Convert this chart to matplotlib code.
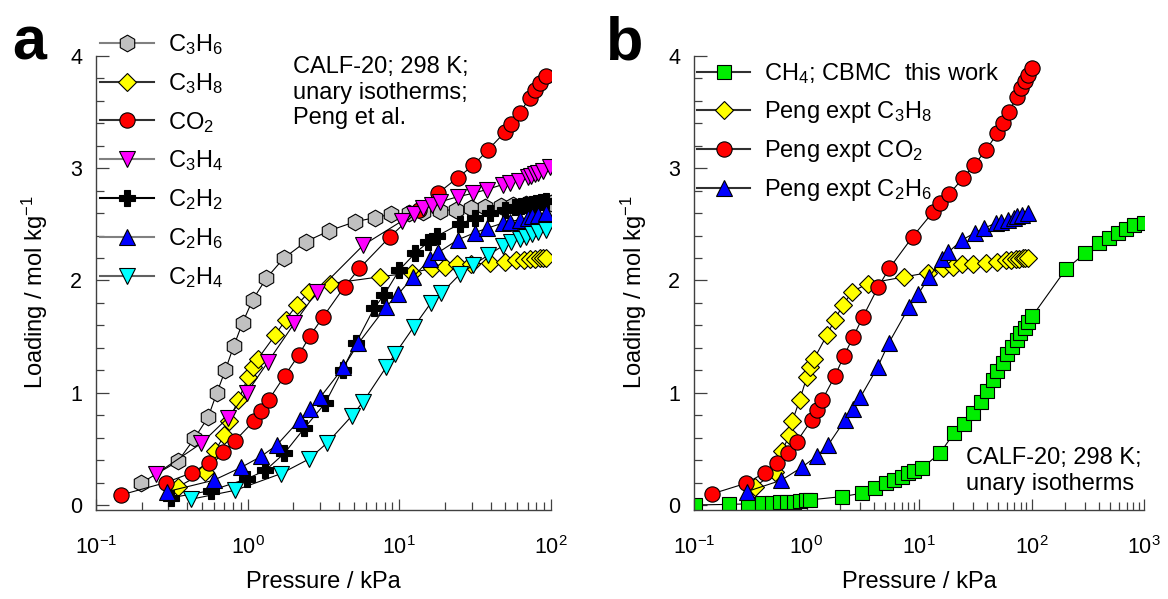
import numpy as np
import matplotlib
matplotlib.use("Agg")
import matplotlib.pyplot as plt
from matplotlib.ticker import LogLocator, NullFormatter, MultipleLocator

plt.rcParams['font.family'] = ['Liberation Sans', 'DejaVu Sans']
plt.rcParams['mathtext.fontset'] = 'custom'
plt.rcParams['mathtext.rm'] = 'Liberation Sans'
plt.rcParams['mathtext.it'] = 'Liberation Sans'
plt.rcParams['mathtext.bf'] = 'Liberation Sans:bold'
plt.rcParams['mathtext.sf'] = 'Liberation Sans'
plt.rcParams['mathtext.default'] = 'regular'

# ---------------- data (pressure kPa, loading mol/kg) ----------------
p_c3h6 = [0.197, 0.348, 0.446, 0.549, 0.625, 0.713, 0.809, 0.927, 1.079, 1.327, 1.725, 2.42, 3.46, 5.13,
          6.92, 8.81, 11.5, 14.4, 18.5, 23.5, 29.9, 36.6, 47.1, 56.2, 68.8, 80.1, 90.8, 99.5]
q_c3h6 = [0.193, 0.39, 0.594, 0.783, 0.995, 1.203, 1.415, 1.625, 1.827, 2.019, 2.197, 2.346, 2.444, 2.524,
          2.56, 2.59, 2.60, 2.612, 2.622, 2.632, 2.642, 2.655, 2.665, 2.673, 2.678, 2.682, 2.686, 2.69]

p_c3h8 = [0.345, 0.52, 0.61, 0.70, 0.75, 0.87, 1.01, 1.08, 1.17, 1.52, 1.78, 2.1, 2.55, 3.5, 7.4, 12.1,
          16.5, 20.0, 23.9, 29.9, 39.5, 49.6, 59.2, 66.0, 72.4, 78.0, 84.3, 88.0, 93.2]
q_c3h8 = [0.16, 0.29, 0.48, 0.62, 0.75, 0.935, 1.143, 1.23, 1.303, 1.514, 1.65, 1.778, 1.9, 1.972, 2.032,
          2.07, 2.108, 2.12, 2.15, 2.147, 2.155, 2.168, 2.18, 2.185, 2.19, 2.193, 2.197, 2.2, 2.203]

p_co2_a = [0.146, 0.288, 0.431, 0.553, 0.685, 0.822, 1.106, 1.23, 1.375, 1.75, 2.17, 2.58, 3.13, 4.35,
           5.46, 8.68, 13.5, 18.1, 24.2, 30.7, 38.5, 49.6, 54.8, 62.2, 72.4, 78.1, 84.2, 93.1]
q_co2_a = [0.089, 0.199, 0.288, 0.377, 0.469, 0.57, 0.751, 0.84, 0.935, 1.149, 1.336, 1.508, 1.672, 1.945,
           2.108, 2.39, 2.63, 2.78, 2.915, 3.025, 3.165, 3.32, 3.39, 3.49, 3.63, 3.697, 3.756, 3.82]

p_c3h4 = [0.247, 0.496, 0.743, 0.991, 1.36, 2.03, 2.86, 5.8, 10.4, 12.4, 14.4, 16.3, 18.5, 24.4, 30.7,
          37.6, 47.9, 53.5, 61.5, 70.6, 74.3, 78.1, 82.1, 88.6, 98.0]
q_c3h4 = [0.273, 0.55, 0.778, 1.0, 1.274, 1.618, 1.9, 2.316, 2.53, 2.595, 2.643, 2.673, 2.70, 2.747, 2.777,
          2.81, 2.854, 2.872, 2.89, 2.925, 2.935, 2.945, 2.955, 2.979, 3.008]

p_c2h2 = [0.313, 0.573, 0.99, 1.31, 1.745, 2.36, 3.24, 4.22, 5.19, 6.81, 7.93, 10.0, 12.7, 15.5, 17.6,
          25.1, 31.5, 39.5, 49.6, 57.7, 63.0, 68.8, 75.0, 80.1, 86.0, 93.2]
q_c2h2 = [0.064, 0.128, 0.233, 0.308, 0.46, 0.683, 0.906, 1.203, 1.446, 1.752, 1.871, 2.094, 2.242, 2.343,
          2.393, 2.506, 2.554, 2.598, 2.628, 2.652, 2.66, 2.673, 2.68, 2.688, 2.70, 2.711]

p_c2h6 = [0.295, 0.597, 0.907, 1.228, 1.56, 2.2, 2.58, 3.01, 4.28, 5.37, 8.2, 9.85, 12.3, 15.9, 18.1,
          24.2, 31.5, 37.8, 48.3, 54.0, 62.2, 70.0, 75.0, 82.0, 93.2]
q_c2h6 = [0.119, 0.22, 0.335, 0.433, 0.535, 0.757, 0.852, 0.959, 1.226, 1.44, 1.767, 1.88, 2.03, 2.19,
          2.25, 2.361, 2.426, 2.465, 2.512, 2.525, 2.542, 2.56, 2.57, 2.58, 2.598]

p_c2h4 = [0.42, 0.83, 1.66, 2.52, 3.36, 4.86, 5.79, 8.17, 9.36, 12.4, 16.1, 18.9, 25.1, 30.7, 38.5, 48.3,
          54.8, 62.2, 68.0, 75.0, 82.0, 93.2]
q_c2h4 = [0.05, 0.131, 0.279, 0.407, 0.555, 0.793, 0.921, 1.226, 1.345, 1.583, 1.797, 1.886, 2.056, 2.138,
          2.225, 2.31, 2.346, 2.37, 2.39, 2.41, 2.43, 2.452]

p_co2_b = [0.144, 0.29, 0.428, 0.543, 0.69, 0.819, 1.11, 1.23, 1.38, 1.79, 2.15, 2.61, 3.16, 4.35, 5.45,
           8.79, 13.4, 15.4, 18.6, 24.5, 31.0, 39.4, 49.7, 56.2, 63.5, 73.8, 80.7, 87.5, 93.7, 102.0]
q_co2_b = [0.098, 0.193, 0.288, 0.377, 0.466, 0.564, 0.757, 0.846, 0.935, 1.149, 1.327, 1.5, 1.672, 1.945,
           2.108, 2.39, 2.613, 2.687, 2.771, 2.91, 3.029, 3.163, 3.311, 3.4, 3.504, 3.638, 3.712, 3.78,
           3.831, 3.89]

p_ch4 = [0.102, 0.204, 0.304, 0.40, 0.49, 0.58, 0.675, 0.77, 0.875, 0.98, 1.07, 2.06, 3.1, 4.07, 5.06,
         6.0, 7.02, 8.04, 9.03, 10.6, 15.5, 20.4, 25.2, 30.5, 35.3, 40.4, 45.6, 49.4, 55.7, 60.4, 66.9,
         74.0, 79.1, 87.5, 93.5, 102.0, 202.0, 299.0, 396.0, 485.0, 585.0, 687.0, 818.0, 1000.0]
q_ch4 = [0.0, 0.005, 0.01, 0.015, 0.02, 0.025, 0.03, 0.03, 0.036, 0.042, 0.045, 0.074, 0.104, 0.154,
         0.193, 0.223, 0.252, 0.282, 0.306, 0.327, 0.466, 0.638, 0.722, 0.823, 0.921, 1.019, 1.114, 1.197,
         1.262, 1.345, 1.41, 1.47, 1.529, 1.574, 1.633, 1.684, 2.1, 2.242, 2.331, 2.376, 2.42, 2.456,
         2.494, 2.515]

labels_a = [r'C$_3$H$_6$', r'C$_3$H$_8$', r'CO$_2$', r'C$_3$H$_4$', r'C$_2$H$_2$', r'C$_2$H$_6$', r'C$_2$H$_4$']
labels_b = [r'CH$_4$; CBMC  this work', r'Peng expt C$_3$H$_8$', r'Peng expt CO$_2$', r'Peng expt C$_2$H$_6$']

# ---------------- figure ----------------
W, H = 1168, 599
fig = plt.figure(figsize=(W / 100, H / 100), dpi=100)

def ax_rect(x0, x1, ytop, ybot):
    return [x0 / W, 1 - ybot / H, (x1 - x0) / W, (ybot - ytop) / H]

axA = fig.add_axes(ax_rect(96, 551, 56, 510))
axB = fig.add_axes(ax_rect(694, 1144, 56, 510))

LW = 0.8
MEW = 0.8

def series(ax, p, q, marker, color, ms, label):
    ln, = ax.plot(p, q, color='black', lw=LW, marker=marker, ms=ms, mfc=color, mec='black', mew=MEW,
                  label=label)
    return ln

hA = []
hA.append(series(axA, p_c3h6, q_c3h6, 'h', '#C0C0C0', 12.0, labels_a[0]))
hA.append(series(axA, p_c3h8, q_c3h8, 'D', '#FFFF00', 8.8, labels_a[1]))
hA.append(series(axA, p_co2_a, q_co2_a, 'o', '#FF0000', 11.0, labels_a[2]))
hA.append(series(axA, p_c3h4, q_c3h4, 'v', '#FF00FF', 11.0, labels_a[3]))
hA.append(series(axA, p_c2h2, q_c2h2, 'P', '#000000', 11.0, labels_a[4]))
hA.append(series(axA, p_c2h6, q_c2h6, '^', '#0000FF', 11.0, labels_a[5]))
hA.append(series(axA, p_c2h4, q_c2h4, 'v', '#00FFFF', 11.0, labels_a[6]))

hB = []
hB.append(series(axB, p_ch4, q_ch4, 's', '#00EE00', 9.6, labels_b[0]))
hB.append(series(axB, p_c3h8, q_c3h8, 'D', '#FFFF00', 8.8, labels_b[1]))
hB.append(series(axB, p_co2_b, q_co2_b, 'o', '#FF0000', 11.0, labels_b[2]))
hB.append(series(axB, p_c2h6, q_c2h6, '^', '#0000FF', 11.0, labels_b[3]))

spine_c = '#404040'
for ax, xmax in ((axA, 100), (axB, 1000)):
    ax.set_xscale('log')
    ax.set_xlim(0.1, xmax)
    ax.set_ylim(-0.045, 4.0)
    for s in ('top', 'right'):
        ax.spines[s].set_visible(False)
    for s in ('left', 'bottom'):
        ax.spines[s].set_color(spine_c)
        ax.spines[s].set_linewidth(1.0)
    ax.xaxis.set_major_locator(LogLocator(base=10, numticks=10))
    ax.xaxis.set_minor_locator(LogLocator(base=10, subs=np.arange(2, 10), numticks=50))
    ax.xaxis.set_minor_formatter(NullFormatter())
    ax.yaxis.set_major_locator(MultipleLocator(1))
    ax.yaxis.set_minor_locator(MultipleLocator(0.2))
    ax.tick_params(axis='both', which='both', direction='in', color=spine_c, width=0.9, labelsize=15.5)
    ax.tick_params(axis='y', which='major', length=9, pad=10)
    ax.tick_params(axis='y', which='minor', length=6)
    ax.tick_params(axis='x', which='major', length=8, pad=19)
    ax.tick_params(axis='x', which='minor', length=5.5)
    ax.set_xlabel('Pressure / kPa', fontsize=17)
    ax.set_ylabel(r'Loading / mol kg$^{-1}$', fontsize=17)
    ax.xaxis.set_label_coords(0.5, -0.135)
    ax.yaxis.set_label_coords(-0.10, 0.48)

# legends
legA = axA.legend(handles=hA, loc='upper left', bbox_to_anchor=(100 / W, 1 - 32 / H),
                  bbox_transform=fig.transFigure, frameon=False, fontsize=17,
                  handlelength=2.3, handletextpad=0.6, labelspacing=0.59, borderpad=0, borderaxespad=0)
legB = axB.legend(handles=hB, loc='upper left', bbox_to_anchor=(697 / W, 1 - 61 / H),
                  bbox_transform=fig.transFigure, frameon=False, fontsize=17,
                  handlelength=2.25, handletextpad=0.6, labelspacing=0.55, borderpad=0, borderaxespad=0)
for line, c in zip(legA.get_lines(), ['#808080', '#303030', '#303030', '#808080', '#000000', '#808080', '#606060']):
    line.set_color(c)
    line.set_linewidth(1.5)
for line in legB.get_lines():
    line.set_color('#303030')
    line.set_linewidth(1.5)

# annotations
axA.text(293 / W, 1 - 56 / H, 'CALF-20; 298 K;\nunary isotherms;\nPeng et al.', transform=fig.transFigure,
         fontsize=17, ha='left', va='top', linespacing=1.22)
axB.text(966 / W, 1 - 447 / H, 'CALF-20; 298 K;\nunary isotherms', transform=fig.transFigure,
         fontsize=17, ha='left', va='top', linespacing=1.25)

# panel labels
fig.text(12 / W, 1 - 59 / H, 'a', fontsize=44, fontweight='bold', ha='left', va='baseline')
fig.text(606 / W, 1 - 60 / H, 'b', fontsize=44, fontweight='bold', ha='left', va='baseline')

fig.savefig('out.png', dpi=100)
